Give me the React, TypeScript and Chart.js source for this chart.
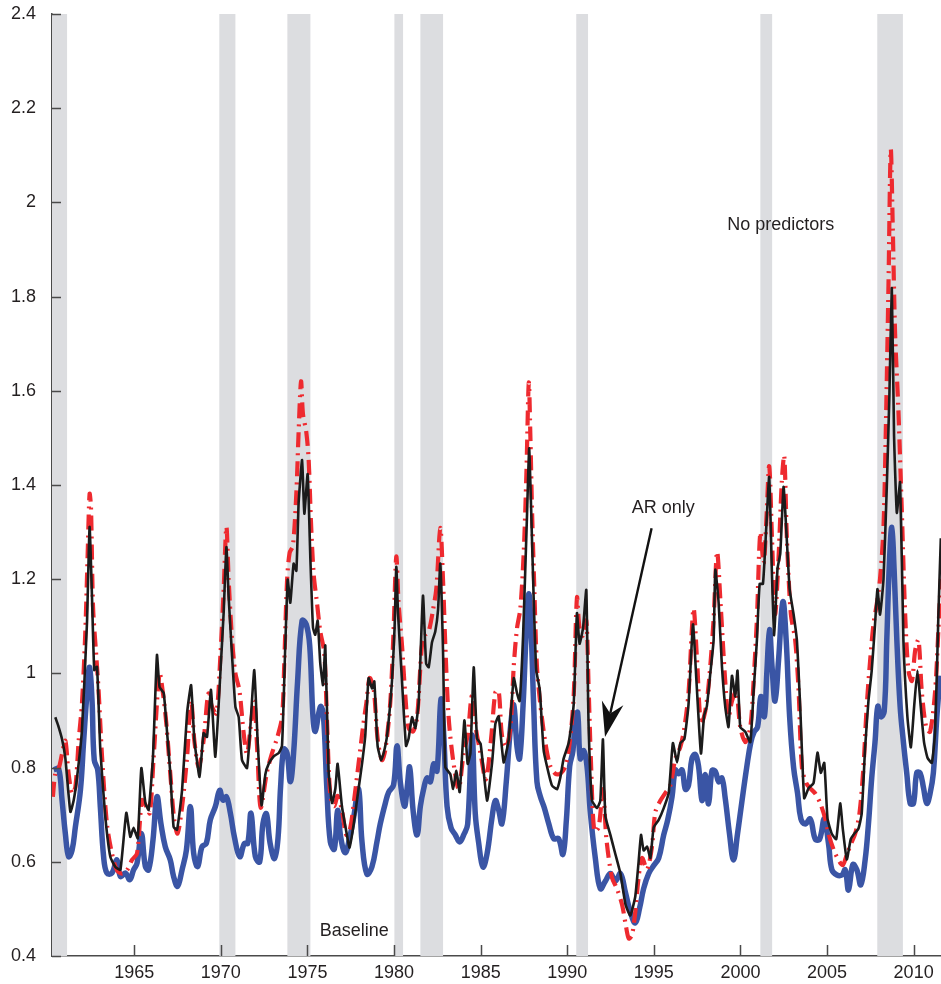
import React, { useEffect, useRef } from "react";
import { Chart, registerables } from "chart.js";

Chart.register(...registerables);

const X_MIN = 1960.25;
const X_MAX = 2011.58;
const Y_MIN = 0.4;
const Y_MAX = 2.4;
const xTickValues = [1965, 1970, 1975, 1980, 1985, 1990, 1995, 2000, 2005, 2010];
const yTickValues = [0.4, 0.6, 0.8, 1.0, 1.2, 1.4, 1.6, 1.8, 2.0, 2.2, 2.4];

const recessionStart = [1960.25, 1969.91, 1973.84, 1980.02, 1981.52, 1990.52, 2001.15, 2007.9];
const recessionEnd = [1961.12, 1970.84, 1975.17, 1980.52, 1982.83, 1991.2, 2001.83, 2009.38];

// AR only (black)
const arYears = [
  1960.44, 1960.6, 1960.83, 1961.02, 1961.31, 1961.5, 1961.7, 1961.98, 1962.27, 1962.42, 1962.56, 1962.69, 1962.85,
  1963.04, 1963.33, 1963.62, 1963.91, 1964.2, 1964.54, 1964.77, 1964.96, 1965.2, 1965.41, 1965.64, 1965.83,
  1966.08, 1966.31, 1966.46, 1966.7, 1966.85, 1967.08, 1967.27, 1967.47, 1967.76, 1968.05, 1968.28, 1968.47,
  1968.77, 1969.0, 1969.2, 1969.43, 1969.68, 1969.97, 1970.16, 1970.32, 1970.45, 1970.65, 1970.84, 1971.03,
  1971.22, 1971.51, 1971.7, 1971.93, 1972.12, 1972.35, 1972.57, 1972.76, 1973.05, 1973.34, 1973.53, 1973.72,
  1973.86, 1974.01, 1974.2, 1974.36, 1974.49, 1974.69, 1974.82, 1975.01, 1975.17, 1975.32, 1975.45, 1975.59,
  1975.74, 1975.9, 1976.03, 1976.22, 1976.42, 1976.61, 1976.74, 1976.99, 1977.24, 1977.43, 1977.67, 1977.95,
  1978.15, 1978.34, 1978.53, 1978.73, 1978.86, 1979.05, 1979.25, 1979.4, 1979.6, 1979.88, 1980.03, 1980.13,
  1980.23, 1980.46, 1980.69, 1980.84, 1981.04, 1981.23, 1981.42, 1981.67, 1981.85, 1982.0, 1982.19, 1982.38,
  1982.54, 1982.67, 1982.83, 1982.96, 1983.25, 1983.41, 1983.6, 1983.79, 1984.06, 1984.25, 1984.41, 1984.6,
  1984.79, 1985.0, 1985.37, 1985.66, 1985.85, 1986.04, 1986.33, 1986.62, 1986.91, 1987.1, 1987.25, 1987.45,
  1987.68, 1987.8, 1987.91, 1988.06, 1988.21, 1988.41, 1988.64, 1988.93, 1989.12, 1989.41, 1989.6, 1989.79,
  1990.08, 1990.37, 1990.56, 1990.71, 1990.91, 1991.1, 1991.23, 1991.43, 1991.72, 1991.91, 1992.06, 1992.2,
  1992.49, 1992.78, 1993.07, 1993.36, 1993.64, 1993.93, 1994.12, 1994.26, 1994.41, 1994.61, 1994.8, 1994.99,
  1995.28, 1995.57, 1995.86, 1996.1, 1996.34, 1996.53, 1996.76, 1997.0, 1997.26, 1997.45, 1997.72, 1997.9,
  1998.06, 1998.26, 1998.45, 1998.55, 1998.74, 1998.93, 1999.12, 1999.31, 1999.51, 1999.7, 1999.83, 1999.99,
  2000.28, 2000.57, 2000.76, 2000.95, 2001.11, 2001.3, 2001.49, 2001.66, 2001.82, 2001.95, 2002.14, 2002.3,
  2002.49, 2002.64, 2002.84, 2003.07, 2003.26, 2003.45, 2003.68, 2003.93, 2004.22, 2004.45, 2004.64, 2004.84,
  2005.03, 2005.28, 2005.53, 2005.76, 2005.91, 2006.14, 2006.37, 2006.56, 2006.81, 2007.0, 2007.2, 2007.39,
  2007.58, 2007.77, 2007.91, 2008.06, 2008.26, 2008.45, 2008.6, 2008.74, 2008.87, 2009.03, 2009.22, 2009.41,
  2009.64, 2009.84, 2010.03, 2010.22, 2010.41, 2010.6, 2010.8, 2011.05, 2011.24, 2011.43, 2011.57,
];
const arValues = [
  0.907, 0.89, 0.86, 0.82, 0.706, 0.73, 0.78, 0.88, 1.107, 1.311, 1.162, 1.007, 1.014,
  0.837, 0.695, 0.61, 0.589, 0.583, 0.704, 0.653, 0.672, 0.65, 0.799, 0.725, 0.71,
  0.823, 1.039, 0.971, 0.958, 0.895, 0.789, 0.674, 0.668, 0.752, 0.916, 0.975, 0.859,
  0.78, 0.873, 0.865, 0.965, 0.823, 1.0, 1.128, 1.268, 1.162, 1.035, 0.929, 0.907,
  0.816, 0.799, 0.886, 1.007, 0.859, 0.72, 0.786, 0.808, 0.824, 0.831, 0.846, 1.059,
  1.199, 1.15, 1.233, 1.218, 1.362, 1.453, 1.339, 1.423, 1.241, 1.097, 1.082, 1.112,
  1.021, 0.975, 1.059, 0.793, 0.725, 0.755, 0.808, 0.718, 0.665, 0.63, 0.68, 0.755,
  0.808, 0.869, 0.99, 0.968, 0.983, 0.846, 0.816, 0.831, 0.869, 0.983, 1.097, 1.226,
  1.127, 0.983, 0.846, 0.862, 0.907, 0.884, 0.937, 1.165, 1.021, 1.013, 1.066, 1.089,
  1.135, 1.233, 1.044, 0.801, 0.786, 0.755, 0.793, 0.748, 0.9, 0.808, 0.831, 1.013,
  0.862, 0.85, 0.73, 0.81, 0.893, 0.909, 0.811, 0.86, 0.99, 0.958, 0.941, 1.08,
  1.34, 1.478, 1.356, 1.161, 1.007, 0.966, 0.836, 0.787, 0.762, 0.754, 0.779, 0.819,
  0.852, 0.933, 1.128, 1.063, 1.096, 1.177, 0.893, 0.73, 0.714, 0.73, 0.86, 0.697,
  0.657, 0.616, 0.575, 0.51, 0.486, 0.527, 0.6, 0.657, 0.624, 0.632, 0.608, 0.673,
  0.689, 0.714, 0.746, 0.852, 0.811, 0.852, 0.86, 0.933, 1.104, 0.99, 0.83, 0.91,
  0.93, 1.0, 1.07, 1.22, 1.15, 1.016, 0.93, 0.886, 0.995, 0.951, 1.006, 0.886,
  0.876, 0.854, 0.962, 1.07, 1.19, 1.19, 1.309, 1.417, 1.211, 1.081, 1.222, 1.255,
  1.396, 1.309, 1.179, 1.125, 1.07, 0.93, 0.735, 0.756, 0.767, 0.832, 0.789, 0.81,
  0.691, 0.659, 0.648, 0.724, 0.67, 0.605, 0.648, 0.659, 0.67, 0.702, 0.843, 0.941,
  1.006, 1.103, 1.179, 1.125, 1.2, 1.396, 1.59, 1.818, 1.504, 1.341, 1.406, 1.07,
  0.908, 0.843, 0.93, 1.006, 0.93, 0.854, 0.821, 0.81, 0.876, 1.125, 1.287,
];

// No predictors (red dashed)
const noPredYears = [
  1960.3, 1960.44, 1960.63, 1960.83, 1961.02, 1961.21, 1961.41, 1961.6, 1961.79, 1961.98, 1962.17, 1962.31,
  1962.42, 1962.5, 1962.62, 1962.81, 1962.94, 1963.14, 1963.42, 1963.71, 1964.0, 1964.29, 1964.58, 1964.87,
  1965.16, 1965.45, 1965.7, 1965.9, 1966.12, 1966.46, 1966.66, 1966.85, 1967.08, 1967.31, 1967.5, 1967.76,
  1968.05, 1968.28, 1968.47, 1968.72, 1969.0, 1969.28, 1969.49, 1969.74, 1969.97, 1970.16, 1970.32, 1970.45,
  1970.65, 1970.84, 1971.07, 1971.32, 1971.51, 1971.74, 1971.93, 1972.12, 1972.3, 1972.66, 1972.95, 1973.24,
  1973.53, 1973.66, 1973.82, 1973.97, 1974.16, 1974.36, 1974.49, 1974.63, 1974.74, 1974.93, 1975.07, 1975.2,
  1975.36, 1975.55, 1975.74, 1975.97, 1976.12, 1976.32, 1976.55, 1976.74, 1976.99, 1977.24, 1977.47, 1977.7,
  1977.95, 1978.2, 1978.4, 1978.59, 1978.82, 1979.05, 1979.3, 1979.5, 1979.78, 1979.97, 1980.13, 1980.26,
  1980.46, 1980.65, 1980.84, 1981.1, 1981.33, 1981.61, 1981.81, 1982.0, 1982.25, 1982.44, 1982.67, 1982.83,
  1982.96, 1983.15, 1983.41, 1983.73, 1984.02, 1984.25, 1984.5, 1984.75, 1984.98, 1985.3, 1985.6, 1985.85,
  1986.04, 1986.23, 1986.48, 1986.72, 1986.91, 1987.1, 1987.29, 1987.49, 1987.64, 1987.78, 1987.87, 1987.97,
  1988.1, 1988.25, 1988.45, 1988.74, 1989.02, 1989.31, 1989.6, 1989.89, 1990.14, 1990.37, 1990.56, 1990.71,
  1990.91, 1991.1, 1991.23, 1991.37, 1991.56, 1991.81, 1992.06, 1992.26, 1992.58, 1992.87, 1993.16, 1993.36,
  1993.55, 1993.74, 1993.93, 1994.12, 1994.32, 1994.61, 1994.89, 1995.09, 1995.38, 1995.66, 1995.95, 1996.24,
  1996.53, 1996.76, 1997.0, 1997.29, 1997.49, 1997.72, 1997.97, 1998.2, 1998.45, 1998.65, 1998.85, 1999.12,
  1999.31, 1999.51, 1999.76, 1999.99, 2000.28, 2000.57, 2000.76, 2000.95, 2001.15, 2001.34, 2001.49, 2001.66,
  2001.82, 2002.0, 2002.2, 2002.39, 2002.53, 2002.68, 2002.91, 2003.16, 2003.36, 2003.55, 2003.8, 2004.03,
  2004.32, 2004.61, 2004.9, 2005.09, 2005.38, 2005.66, 2005.91, 2006.14, 2006.37, 2006.62, 2006.87, 2007.1,
  2007.29, 2007.49, 2007.68, 2007.87, 2008.06, 2008.26, 2008.41, 2008.55, 2008.68, 2008.8, 2008.93, 2009.12,
  2009.32, 2009.51, 2009.7, 2009.9, 2010.09, 2010.28, 2010.47, 2010.72, 2010.95, 2011.24, 2011.43, 2011.57,
];
const noPredValues = [
  0.738, 0.787, 0.797, 0.829, 0.857, 0.787, 0.745, 0.759, 0.857, 0.936, 1.084, 1.254,
  1.381, 1.353, 1.141, 1.035, 0.964, 0.823, 0.681, 0.618, 0.582, 0.575, 0.582, 0.604,
  0.618, 0.731, 0.717, 0.703, 0.823, 1.0, 0.957, 0.894, 0.787, 0.688, 0.66, 0.717,
  0.823, 0.943, 0.857, 0.801, 0.857, 0.957, 0.929, 0.915, 1.035, 1.176, 1.311, 1.198,
  1.07, 1.0, 0.964, 0.872, 0.829, 0.894, 0.943, 0.823, 0.715, 0.79, 0.83, 0.862,
  0.907, 1.021, 1.195, 1.256, 1.271, 1.384, 1.513, 1.62, 1.551, 1.513, 1.453, 1.324,
  1.21, 1.15, 1.089, 1.044, 0.907, 0.74, 0.718, 0.74, 0.709, 0.657, 0.672, 0.733,
  0.808, 0.884, 0.937, 0.99, 0.968, 0.862, 0.816, 0.839, 0.937, 1.089, 1.248, 1.15,
  1.059, 0.953, 0.884, 0.877, 0.907, 1.059, 1.082, 1.089, 1.135, 1.18, 1.309, 1.195,
  1.059, 0.907, 0.816, 0.755, 0.831, 0.869, 0.953, 0.877, 0.833, 0.775, 0.86, 0.96,
  0.963, 0.868, 0.844, 0.884, 1.015, 1.096, 1.137, 1.259, 1.422, 1.617, 1.504, 1.341,
  1.178, 1.015, 0.933, 0.852, 0.803, 0.787, 0.787, 0.803, 0.852, 0.95, 1.161, 1.096,
  1.08, 1.112, 0.974, 0.811, 0.665, 0.673, 0.754, 0.649, 0.567, 0.543, 0.51, 0.47,
  0.437, 0.445, 0.494, 0.567, 0.608, 0.584, 0.632, 0.706, 0.73, 0.746, 0.762, 0.819,
  0.844, 0.884, 0.958, 1.137, 1.031, 0.893, 0.92, 0.99, 1.115, 1.258, 1.15, 0.984,
  0.908, 0.941, 0.962, 0.886, 0.854, 0.886, 0.984, 1.115, 1.299, 1.234, 1.321, 1.44,
  1.288, 1.126, 1.245, 1.408, 1.462, 1.288, 1.126, 1.071, 0.962, 0.8, 0.767, 0.756,
  0.745, 0.724, 0.691, 0.659, 0.626, 0.604, 0.593, 0.615, 0.637, 0.659, 0.702, 0.8,
  0.93, 1.028, 1.104, 1.147, 1.201, 1.31, 1.548, 1.83, 2.112, 1.938, 1.721, 1.559,
  1.342, 1.126, 1.006, 0.984, 1.049, 1.071, 0.962, 0.886, 0.876, 0.962, 1.093, 1.201,
];

// Baseline (blue)
const baseYears = [
  1960.35, 1960.63, 1960.83, 1961.02, 1961.21, 1961.41, 1961.6, 1961.89, 1962.08, 1962.27, 1962.42, 1962.56,
  1962.69, 1962.89, 1963.04, 1963.23, 1963.42, 1963.71, 1964.0, 1964.2, 1964.49, 1964.74, 1964.96, 1965.16,
  1965.41, 1965.64, 1965.83, 1966.08, 1966.31, 1966.54, 1966.79, 1967.08, 1967.27, 1967.5, 1967.76, 1968.01,
  1968.24, 1968.43, 1968.66, 1968.91, 1969.16, 1969.39, 1969.68, 1969.93, 1970.12, 1970.32, 1970.55, 1970.78,
  1971.09, 1971.36, 1971.55, 1971.74, 1971.99, 1972.24, 1972.43, 1972.63, 1972.84, 1973.1, 1973.3, 1973.45,
  1973.63, 1973.82, 1974.01, 1974.2, 1974.43, 1974.69, 1974.93, 1975.13, 1975.32, 1975.45, 1975.65, 1975.78,
  1975.93, 1976.12, 1976.32, 1976.55, 1976.74, 1976.93, 1977.18, 1977.43, 1977.67, 1977.95, 1978.15, 1978.43,
  1978.72, 1979.01, 1979.2, 1979.5, 1979.69, 1979.97, 1980.17, 1980.36, 1980.6, 1980.75, 1980.9, 1981.1,
  1981.33, 1981.52, 1981.71, 1981.91, 1982.1, 1982.29, 1982.48, 1982.71, 1982.87, 1983.06, 1983.29, 1983.54,
  1983.79, 1984.02, 1984.25, 1984.5, 1984.69, 1984.88, 1985.13, 1985.37, 1985.66, 1985.85, 1986.04, 1986.23,
  1986.48, 1986.72, 1986.91, 1987.1, 1987.25, 1987.45, 1987.64, 1987.78, 1987.91, 1988.06, 1988.25, 1988.45,
  1988.68, 1988.93, 1989.22, 1989.5, 1989.75, 1989.95, 1990.14, 1990.33, 1990.47, 1990.6, 1990.75, 1990.95,
  1991.14, 1991.33, 1991.62, 1991.91, 1992.2, 1992.49, 1992.78, 1993.07, 1993.36, 1993.64, 1993.93, 1994.18,
  1994.41, 1994.7, 1994.99, 1995.28, 1995.57, 1995.8, 1996.05, 1996.24, 1996.43, 1996.63, 1996.82, 1997.0,
  1997.2, 1997.39, 1997.58, 1997.78, 1997.97, 1998.16, 1998.36, 1998.55, 1998.74, 1998.93, 1999.12, 1999.37,
  1999.6, 1999.83, 2000.07, 2000.36, 2000.6, 2000.79, 2000.99, 2001.18, 2001.38, 2001.53, 2001.68, 2001.82,
  2002.0, 2002.2, 2002.45, 2002.64, 2002.84, 2003.07, 2003.3, 2003.49, 2003.74, 2004.03, 2004.32, 2004.57,
  2004.84, 2005.09, 2005.28, 2005.57, 2005.86, 2006.05, 2006.24, 2006.49, 2006.72, 2006.95, 2007.2, 2007.39,
  2007.58, 2007.77, 2007.93, 2008.1, 2008.3, 2008.45, 2008.6, 2008.74, 2008.87, 2009.03, 2009.22, 2009.41,
  2009.6, 2009.8, 2009.99, 2010.18, 2010.37, 2010.57, 2010.76, 2010.95, 2011.14, 2011.34, 2011.53,
];
const baseValues = [
  0.795, 0.798, 0.731, 0.66, 0.611, 0.625, 0.674, 0.752, 0.858, 0.957, 1.013, 0.943,
  0.816, 0.795, 0.717, 0.611, 0.576, 0.576, 0.604, 0.569, 0.576, 0.562, 0.583, 0.597,
  0.66, 0.59, 0.583, 0.646, 0.738, 0.681, 0.632, 0.604, 0.569, 0.548, 0.583, 0.625,
  0.717, 0.618, 0.59, 0.632, 0.639, 0.689, 0.717, 0.752, 0.731, 0.738, 0.703, 0.653,
  0.611, 0.639, 0.639, 0.703, 0.611, 0.6, 0.681, 0.702, 0.64, 0.607, 0.65, 0.76,
  0.839, 0.831, 0.77, 0.831, 0.983, 1.112, 1.104, 1.059, 0.907, 0.877, 0.915, 0.93,
  0.907, 0.755, 0.642, 0.627, 0.709, 0.65, 0.619, 0.65, 0.695, 0.755, 0.642, 0.574,
  0.589, 0.642, 0.68, 0.725, 0.748, 0.763, 0.846, 0.77, 0.718, 0.755, 0.801, 0.709,
  0.657, 0.718, 0.755, 0.778, 0.77, 0.808, 0.793, 0.945, 0.869, 0.718, 0.672, 0.657,
  0.642, 0.657, 0.68, 0.869, 0.702, 0.642, 0.589, 0.617, 0.695, 0.73, 0.71, 0.681,
  0.77, 0.884, 0.933, 0.844, 0.819, 0.933, 1.096, 1.169, 1.096, 0.933, 0.77, 0.738,
  0.714, 0.681, 0.649, 0.649, 0.616, 0.689, 0.803, 0.836, 0.909, 0.917, 0.819, 0.836,
  0.803, 0.706, 0.608, 0.543, 0.559, 0.575, 0.559, 0.575, 0.535, 0.494, 0.47, 0.502,
  0.543, 0.575, 0.592, 0.608, 0.657, 0.689, 0.738, 0.795, 0.787, 0.795, 0.754, 0.762,
  0.819, 0.828, 0.803, 0.73, 0.785, 0.723, 0.794, 0.792, 0.77, 0.778, 0.735, 0.659,
  0.604, 0.659, 0.724, 0.8, 0.854, 0.876, 0.886, 0.951, 0.908, 1.006, 1.093, 1.017,
  0.941, 1.028, 1.152, 1.071, 0.908, 0.8, 0.745, 0.691, 0.68, 0.691, 0.648, 0.648,
  0.691, 0.637, 0.583, 0.572, 0.572, 0.583, 0.54, 0.594, 0.583, 0.551, 0.604, 0.68,
  0.778, 0.854, 0.93, 0.908, 0.919, 1.071, 1.234, 1.31, 1.223, 1.071, 0.93, 0.854,
  0.789, 0.724, 0.724, 0.789, 0.789, 0.757, 0.724, 0.745, 0.789, 0.908, 0.995,
];

// Annotations (positions in data units)
const noPredLabel = { text: "No predictors", x: 2002.33, y: 1.951 };
const arLabel = { text: "AR only", x: 1995.54, y: 1.352 };
const baseLabel = { text: "Baseline", x: 1977.7, y: 0.452 };
const arrowTail = { x: 1994.87, y: 1.308 };
const arrowTip = { x: 1992.18, y: 0.865 };

const FONT = '"Liberation Sans", Arial, Helvetica, sans-serif';
const TEXT_COLOR = "#231f20";
const AXIS_COLOR = "#4a4a4a";

const toPoints = (xs: number[], ys: number[]) => xs.map((x, i) => ({ x, y: ys[i] }));

const recessionPlugin = {
  id: "recessions",
  beforeDatasetsDraw(chart: any) {
    const { ctx, chartArea, scales } = chart;
    ctx.save();
    ctx.beginPath();
    ctx.rect(chartArea.left, chartArea.top, chartArea.right - chartArea.left, chartArea.bottom - chartArea.top);
    ctx.clip();
    ctx.fillStyle = "#dcdde0";
    recessionStart.forEach((s, i) => {
      const x0 = scales.x.getPixelForValue(s);
      const x1 = scales.x.getPixelForValue(recessionEnd[i]);
      ctx.fillRect(x0, chartArea.top, x1 - x0, chartArea.bottom - chartArea.top);
    });
    ctx.restore();
  },
};

const decorPlugin = {
  id: "decor",
  afterDraw(chart: any) {
    const { ctx, chartArea, scales } = chart;
    const xs = scales.x;
    const ys = scales.y;
    ctx.save();
    // inward tick marks
    ctx.strokeStyle = AXIS_COLOR;
    ctx.lineWidth = 1.5;
    ctx.beginPath();
    xTickValues.forEach((v) => {
      const px = Math.round(xs.getPixelForValue(v)) + 0.5;
      ctx.moveTo(px, chartArea.bottom);
      ctx.lineTo(px, chartArea.bottom - 11);
    });
    yTickValues.forEach((v) => {
      const py = Math.round(ys.getPixelForValue(v)) + 0.5;
      ctx.moveTo(chartArea.left, py);
      ctx.lineTo(chartArea.left + 9, py);
    });
    ctx.stroke();

    // labels
    ctx.fillStyle = TEXT_COLOR;
    ctx.font = `18px ${FONT}`;
    ctx.textAlign = "center";
    ctx.textBaseline = "middle";
    [noPredLabel, arLabel, baseLabel].forEach((l) => {
      ctx.fillText(l.text, xs.getPixelForValue(l.x), ys.getPixelForValue(l.y));
    });

    // arrow
    const tx = xs.getPixelForValue(arrowTail.x);
    const ty = ys.getPixelForValue(arrowTail.y);
    const hx = xs.getPixelForValue(arrowTip.x);
    const hy = ys.getPixelForValue(arrowTip.y);
    const dx = hx - tx;
    const dy = hy - ty;
    const len = Math.sqrt(dx * dx + dy * dy);
    const ux = dx / len;
    const uy = dy / len;
    const nx = -uy;
    const ny = ux;
    const headLen = 35;
    const headHalf = 11;
    const notch = 24;
    ctx.strokeStyle = "#111";
    ctx.lineWidth = 2.4;
    ctx.beginPath();
    ctx.moveTo(tx, ty);
    ctx.lineTo(hx - ux * notch, hy - uy * notch);
    ctx.stroke();
    ctx.fillStyle = "#111";
    ctx.beginPath();
    ctx.moveTo(hx, hy);
    ctx.lineTo(hx - ux * headLen + nx * headHalf, hy - uy * headLen + ny * headHalf);
    ctx.lineTo(hx - ux * notch, hy - uy * notch);
    ctx.lineTo(hx - ux * headLen - nx * headHalf, hy - uy * headLen - ny * headHalf);
    ctx.closePath();
    ctx.fill();
    ctx.restore();
  },
};

const zeroPadding = (s: any) => {
  s.paddingTop = 0;
  s.paddingBottom = 0;
  s.paddingLeft = 0;
  s.paddingRight = 0;
};

export default function App() {
  const canvasRef = useRef<HTMLCanvasElement | null>(null);

  useEffect(() => {
    document.body.style.margin = "0";
    document.body.style.overflow = "hidden";
    const canvas = canvasRef.current;
    if (!canvas) return;
    const tickFont = { family: FONT, size: 18 };
    const chart = new Chart(canvas, {
      type: "line",
      data: {
        datasets: [
          {
            label: "AR only",
            data: toPoints(arYears, arValues),
            borderColor: "#1b1b1b",
            borderWidth: 2.6,
            pointRadius: 0,
            tension: 0.15,
            fill: false,
            order: 0,
          },
          {
            label: "No predictors",
            data: toPoints(noPredYears, noPredValues),
            borderColor: "#ee2a2f",
            borderWidth: 4.2,
            borderDash: [15, 6, 2, 6],
            borderCapStyle: "butt",
            pointRadius: 0,
            tension: 0.3,
            fill: false,
            order: 1,
          },
          {
            label: "Baseline",
            data: toPoints(baseYears, baseValues),
            borderColor: "#3a55a5",
            borderWidth: 5.5,
            pointRadius: 0,
            tension: 0.4,
            borderJoinStyle: "round",
            fill: false,
            order: 2,
          },
        ],
      },
      options: {
        animation: false,
        responsive: false,
        devicePixelRatio: 1,
        layout: { padding: { top: 14, right: 0, left: 0, bottom: 0 } },
        plugins: {
          legend: { display: false },
          tooltip: { enabled: false },
        },
        scales: {
          x: {
            type: "linear",
            min: X_MIN,
            max: X_MAX,
            grid: { display: false, drawTicks: false },
            border: { display: true, color: AXIS_COLOR, width: 1.5 },
            ticks: {
              font: tickFont,
              color: TEXT_COLOR,
              padding: 6,
              maxRotation: 0,
              autoSkip: false,
              callback: (v: any) => String(v),
            },
            afterBuildTicks: (s: any) => {
              s.ticks = xTickValues.map((v) => ({ value: v }));
            },
            afterFit: (s: any) => {
              s.height = 28;
              zeroPadding(s);
            },
          },
          y: {
            type: "linear",
            min: Y_MIN,
            max: Y_MAX,
            grid: { display: false, drawTicks: false },
            border: { display: true, color: AXIS_COLOR, width: 1.5 },
            ticks: {
              font: tickFont,
              color: TEXT_COLOR,
              padding: 16,
              autoSkip: false,
              callback: (v: any) => String(Number(Number(v).toFixed(1))),
            },
            afterBuildTicks: (s: any) => {
              s.ticks = yTickValues.map((v) => ({ value: v }));
            },
            afterFit: (s: any) => {
              s.width = 52;
              zeroPadding(s);
            },
          },
        },
      },
      plugins: [recessionPlugin, decorPlugin],
    } as any);
    return () => chart.destroy();
  }, []);

  return (
    <canvas
      ref={canvasRef}
      width={941}
      height={984}
      style={{ display: "block", width: 941, height: 984 }}
    />
  );
}
